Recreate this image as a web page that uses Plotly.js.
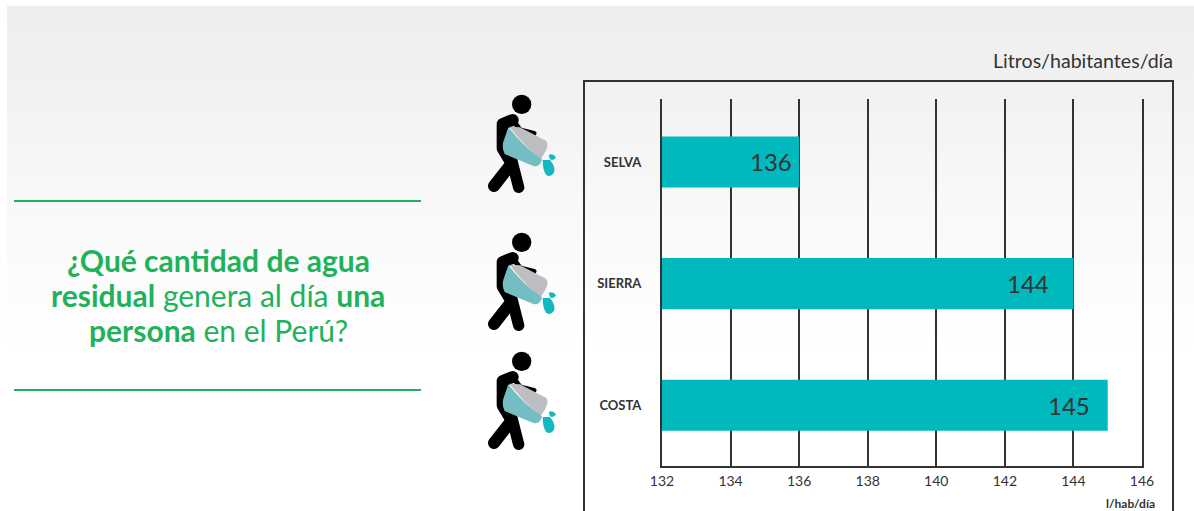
<!DOCTYPE html>
<html><head><meta charset="utf-8">
<script src="https://cdn.plot.ly/plotly-3.0.1.min.js"></script>
<style>
html,body{margin:0;padding:0;background:#fff;width:1194px;height:511px;overflow:hidden}
#bg{position:absolute;left:7px;top:6px;width:1187px;height:505px;background:linear-gradient(#eeeeee 0,#f0f0f0 54px,#f8f8f8 190px,#fefefe 320px,#fff 340px)}
#chart{position:absolute;left:0;top:0;width:1194px;height:511px}
</style></head><body>
<div id="bg"></div><div id="chart"></div>
<script>
const categories=['COSTA','SIERRA','SELVA'];
const litros=[145,144,136];
const tickValues=[132,134,136,138,140,142,144,146];
const W=1194,H=511;
const px=x=>x/W, py=y=>1-y/H;
const iconSvg=`<svg xmlns="http://www.w3.org/2000/svg" viewBox="0 0 600 420" width="600" height="420">
<circle cx="155" cy="73" r="29" fill="#000"/>
<path d="M128 120 L98 132 L98 205 L125 250 L72 318" fill="none" stroke="#000" stroke-width="36" stroke-linecap="round" stroke-linejoin="round"/>
<path d="M125 240 L146 322" fill="none" stroke="#000" stroke-width="34" stroke-linecap="round"/>
<path d="M128 118 L150 150 L192 160" fill="none" stroke="#000" stroke-width="15" stroke-linecap="round"/>
<path d="M118 140 L150 142 L228 182 Q238 192 226 215 L212 238 Q170 205 118 140Z" fill="#bdbdc2"/>
<path d="M115 142 Q165 205 216 238 Q212 262 190 258 L104 222 Q95 205 100 185Z" fill="#74bdc2"/>
<path d="M218 240 L240 240 Q258 262 252 278 Q242 294 228 284 Q218 270 218 240Z M236 225 Q248 218 258 232 Q252 244 240 238Z" fill="#15b8c0"/>
</svg>`;
const iconSrc='data:image/svg+xml;charset=utf-8,'+encodeURIComponent(iconSvg);
const iconTops=[80,218,337];
const labelShift=[-16,-22,-5];
const green='#1fb25a';
const data=[{type:'bar',orientation:'h',y:categories,x:litros,width:0.42,
  marker:{color:'#00b9bd',line:{width:0}},hoverinfo:'skip'}];
const layout={width:W,height:H,autosize:false,margin:{l:0,r:0,t:0,b:0},
  paper_bgcolor:'rgba(0,0,0,0)',plot_bgcolor:'rgba(0,0,0,0)',showlegend:false,
  font:{family:'Lato, sans-serif',color:'#333'},
  xaxis:{domain:[px(662),px(1142)],range:[132,146],tickmode:'array',tickvals:tickValues,
    showgrid:true,gridcolor:'#333',gridwidth:2,zeroline:false,showline:true,linecolor:'#333',linewidth:2,
    ticks:'outside',ticklen:1,tickcolor:'rgba(0,0,0,0)',tickfont:{size:14,color:'#333',family:'Lato, sans-serif'}},
  yaxis:{domain:[py(466),py(99)],type:'category',categoryorder:'array',categoryarray:categories,range:[-0.5,2.518],
    showgrid:false,zeroline:false,showline:true,mirror:true,linecolor:'#333',linewidth:2,
    ticks:'outside',ticklen:16,tickcolor:'rgba(0,0,0,0)',tickfont:{size:13,color:'#333',family:'Lato, sans-serif',weight:'bold'}},
  shapes:[
    {type:'line',xref:'paper',yref:'paper',x0:px(14),x1:px(421),y0:py(201),y1:py(201),line:{color:green,width:2}},
    {type:'line',xref:'paper',yref:'paper',x0:px(14),x1:px(421),y0:py(390),y1:py(390),line:{color:green,width:2}},
    {type:'path',xref:'paper',yref:'paper',layer:'below',path:`M${px(584)} ${py(530)} L${px(584)} ${py(81)} L${px(1173)} ${py(81)} L${px(1173)} ${py(530)}`,line:{color:'#333',width:2}}
  ],
  images:iconTops.map(t=>({source:iconSrc,xref:'paper',yref:'paper',x:px(470),y:py(t),sizex:200/W,sizey:140/H,xanchor:'left',yanchor:'top',sizing:'stretch',layer:'above'})),
  annotations:[
    ...litros.map((v,i)=>({x:v,y:categories[i],xref:'x',yref:'y',xanchor:'right',yanchor:'middle',xshift:labelShift[i],showarrow:false,
      text:String(v),font:{family:'Lato, sans-serif',size:24,color:'#333'}})),
    ...[['¿Qué cantidad de agua</b>',260],['residual</b> genera al día <b>una',295],['persona</b> en el Perú?',330]].map(([t,y])=>({
      xref:'paper',yref:'paper',x:px(218),y:py(y),xanchor:'center',yanchor:'middle',showarrow:false,
      text:'<b>'+t,font:{family:'Lato, sans-serif',size:30,color:green}})),
    {xref:'paper',yref:'paper',x:px(1175),y:py(60),xanchor:'right',yanchor:'middle',showarrow:false,text:'Litros/habitantes/día',font:{family:'Lato, sans-serif',size:19.6,color:'#333'}},
    {xref:'paper',yref:'paper',x:px(1157),y:py(503),xanchor:'right',yanchor:'middle',showarrow:false,text:'<b>l/hab/día</b>',font:{family:'Lato, sans-serif',size:12,color:'#333'}}
  ]};
Plotly.newPlot('chart',data,layout,{displayModeBar:false,staticPlot:true});
</script></body></html>
